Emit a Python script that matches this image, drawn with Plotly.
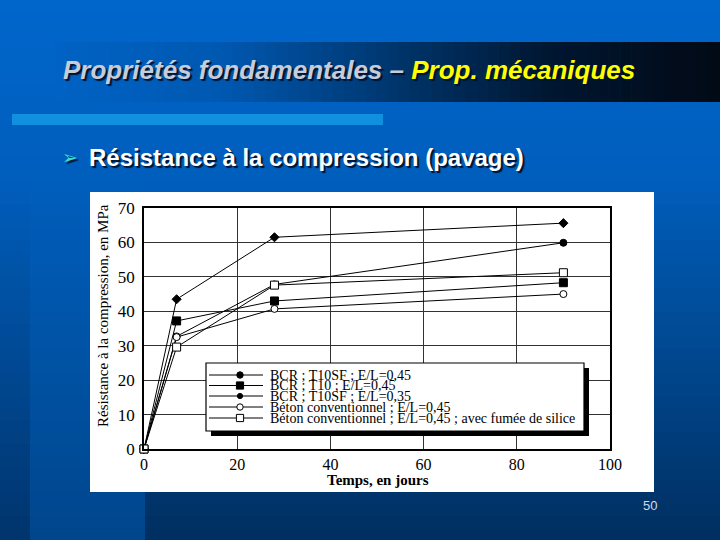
import plotly.graph_objects as go

# ---------------- data ----------------
days = [0, 7, 28, 90]
series_names = [
    "BCR ; T10SF ; E/L=0,45",
    "BCR ; T10 ; E/L=0,45",
    "BCR ; T10SF ; E/L=0,35",
    "Béton conventionnel ; E/L=0,45",
    "Béton conventionnel ; E/L=0,45 ; avec fumée de silice",
]
bcr_t10sf_045 = [0, 32.7, 47.8, 59.9]
bcr_t10_045 = [0, 37.2, 43.0, 48.3]
bcr_t10sf_035 = [0, 43.5, 61.5, 65.6]
beton_conv_045 = [0, 32.5, 40.7, 45.0]
beton_conv_fs = [0, 29.6, 47.6, 51.2]
series_values = [bcr_t10sf_045, bcr_t10_045, bcr_t10sf_035, beton_conv_045, beton_conv_fs]
x_ticks = [0, 20, 40, 60, 80, 100]
y_ticks = [0, 10, 20, 30, 40, 50, 60, 70]

# marker styles (symbol, size, fill)
styles = [
    ("circle", 7, "black"),
    ("square", 8, "black"),
    ("diamond", 7, "black"),
    ("circle", 7, "white"),
    ("square", 8, "white"),
]

# ---------------- geometry helpers ----------------
L, R, T, B = 144, 610, 208, 449
W, H = R - L, B - T


def fx(px):
    return (px - L) / W


def fy(py):
    return (B - py) / H


def mix(c1, c2, t):
    return tuple(round(a + (b - a) * t) for a, b in zip(c1, c2))


def rgb(c):
    return "rgb(%d,%d,%d)" % c


shapes = []

# slide background (vertical gradient with three columns)
top_c = (0, 102, 204)
mid_c = (0, 94, 188)
cols = [
    (0, 30, (0, 52, 108)),
    (30, 145, (0, 70, 140)),
    (145, 720, (0, 47, 96)),
]
step = 12
for y0 in range(0, 540, step):
    yc = y0 + step / 2
    for (xa, xb, bottom) in cols:
        if yc < 180:
            c = mix(top_c, mid_c, yc / 180)
        else:
            c = mix(mid_c, bottom, (yc - 180) / 360)
        shapes.append(dict(type="rect", xref="paper", yref="paper",
                           x0=fx(xa), x1=fx(xb + 0.5), y0=fy(y0 + step + 0.5), y1=fy(y0),
                           fillcolor=rgb(c), line=dict(width=0), layer="below"))

# title bar gradient
bar_l, bar_r = 55, 720
n = 60
for i in range(n):
    xa = bar_l + (bar_r - bar_l) * i / n
    xb = bar_l + (bar_r - bar_l) * (i + 1) / n + 0.5
    t = i / (n - 1)
    if t < 0.25:
        c = mix((0, 98, 196), (0, 88, 176), t / 0.25)
    elif t < 0.75:
        c = mix((0, 88, 176), (0, 22, 48), (t - 0.25) / 0.5)
    else:
        c = mix((0, 22, 48), (2, 10, 22), (t - 0.75) / 0.25)
    shapes.append(dict(type="rect", xref="paper", yref="paper",
                       x0=fx(xa), x1=fx(xb), y0=fy(102), y1=fy(42),
                       fillcolor=rgb(c), line=dict(width=0), layer="below"))

# light blue accent bar
shapes.append(dict(type="rect", xref="paper", yref="paper",
                   x0=fx(12), x1=fx(383), y0=fy(125), y1=fy(114),
                   fillcolor="rgb(18,144,224)", line=dict(width=0), layer="below"))

# white chart panel
shapes.append(dict(type="rect", xref="paper", yref="paper",
                   x0=fx(90), x1=fx(654), y0=fy(492), y1=fy(192),
                   fillcolor="white", line=dict(width=0), layer="below"))

# legend (drawn manually to match compact spacing)
lg_l, lg_r, lg_t, lg_b = 206, 584, 363, 431
shapes.append(dict(type="rect", xref="paper", yref="paper",
                   x0=fx(lg_l + 5), x1=fx(lg_r + 5), y0=fy(lg_b + 5), y1=fy(lg_t + 5),
                   fillcolor="black", line=dict(width=0), layer="above"))
shapes.append(dict(type="rect", xref="paper", yref="paper",
                   x0=fx(lg_l), x1=fx(lg_r), y0=fy(lg_b), y1=fy(lg_t),
                   fillcolor="white", line=dict(color="black", width=1.2), layer="above"))

row_y = [375, 385.5, 396, 407, 418]
annotations = []
for i, (name, (sym, size, fill)) in enumerate(zip(series_names, styles)):
    yy = row_y[i]
    shapes.append(dict(type="line", xref="paper", yref="paper",
                       x0=fx(209), x1=fx(263), y0=fy(yy), y1=fy(yy),
                       line=dict(color="black", width=1), layer="above"))
    r = {7: 3.2, 8: 3.6}[size]
    if sym == "diamond":
        r = 2.6
    stype = "rect" if sym == "square" else "circle"
    shapes.append(dict(type=stype, xref="paper", yref="paper",
                       x0=fx(240 - r), x1=fx(240 + r), y0=fy(yy + r), y1=fy(yy - r),
                       fillcolor=fill, line=dict(color="black", width=1), layer="above"))
    annotations.append(dict(x=fx(268), y=fy(yy), xref="paper", yref="paper",
                            text=name, showarrow=False, xanchor="left", yanchor="middle",
                            font=dict(family="Liberation Serif", size=14, color="black")))

# ---------------- traces ----------------
fig = go.Figure()
for name, vals, (sym, size, fill) in zip(series_names, series_values, styles):
    fig.add_trace(go.Scatter(
        x=days, y=vals, mode="lines+markers", name=name, showlegend=False,
        line=dict(color="black", width=1),
        marker=dict(symbol=sym, size=size, color=fill, line=dict(color="black", width=1)),
        cliponaxis=False,
    ))

# ---------------- texts ----------------
shadow = "2px 2px 1px rgb(0,20,50)"
title_txt = "<b><i>Propriétés fondamentales – <span style='color:#FFFF00'>Prop. mécaniques</span></i></b>"
annotations.append(dict(x=fx(61), y=fy(70), xref="paper", yref="paper", text=title_txt,
                        showarrow=False, xanchor="left", yanchor="middle",
                        font=dict(family="Liberation Sans", size=26, color="rgb(200,204,216)",
                                  shadow=shadow)))

bullet = "<b>Résistance à la compression (pavage)</b>"
annotations.append(dict(x=fx(87), y=fy(157), xref="paper", yref="paper", text=bullet,
                        showarrow=False, xanchor="left", yanchor="middle",
                        font=dict(family="Liberation Sans", size=24, color="white",
                                  shadow=shadow)))
annotations.append(dict(x=fx(70), y=fy(157), xref="paper", yref="paper", text="➢",
                        showarrow=False, xanchor="center", yanchor="middle",
                        font=dict(family="DejaVu Sans", size=19, color="rgb(64,220,210)",
                                  shadow=shadow)))

annotations.append(dict(x=fx(103), y=fy(316), xref="paper", yref="paper",
                        text="Résistance à la compression, en MPa", textangle=-90,
                        showarrow=False, xanchor="center", yanchor="middle",
                        font=dict(family="Liberation Serif", size=15, color="black")))
annotations.append(dict(x=fx(378), y=fy(480), xref="paper", yref="paper",
                        text="<b>Temps, en jours</b>",
                        showarrow=False, xanchor="center", yanchor="middle",
                        font=dict(family="Liberation Serif", size=15, color="black")))
annotations.append(dict(x=fx(650), y=fy(505), xref="paper", yref="paper", text="50",
                        showarrow=False, xanchor="center", yanchor="middle",
                        font=dict(family="Liberation Sans Narrow, Liberation Sans", size=13,
                                  color="rgb(210,218,232)")))

fig.update_layout(
    width=720, height=540,
    margin=dict(l=L, r=720 - R, t=T, b=540 - B, pad=0),
    paper_bgcolor="rgb(0,80,160)",
    plot_bgcolor="white",
    shapes=shapes,
    annotations=annotations,
    showlegend=False,
)
fig.update_xaxes(range=[0, 100], tickvals=x_ticks, ticktext=[str(v) for v in x_ticks],
                 showgrid=True, gridcolor="rgb(50,50,50)", gridwidth=1,
                 showline=True, linecolor="black", linewidth=1.5, mirror=True,
                 ticks="", zeroline=False,
                 tickfont=dict(family="Liberation Serif", size=16, color="black"))
fig.update_yaxes(range=[0, 70], tickvals=y_ticks, ticktext=[str(v) for v in y_ticks],
                 showgrid=True, gridcolor="rgb(50,50,50)", gridwidth=1,
                 showline=True, linecolor="black", linewidth=1.5, mirror=True,
                 ticks="", zeroline=False, ticklabelstandoff=4,
                 tickfont=dict(family="Liberation Serif", size=17, color="black"))

fig.write_html("out.html", config={"displayModeBar": False},
               post_script="document.body.style.margin='0';document.body.style.overflow='hidden';")
